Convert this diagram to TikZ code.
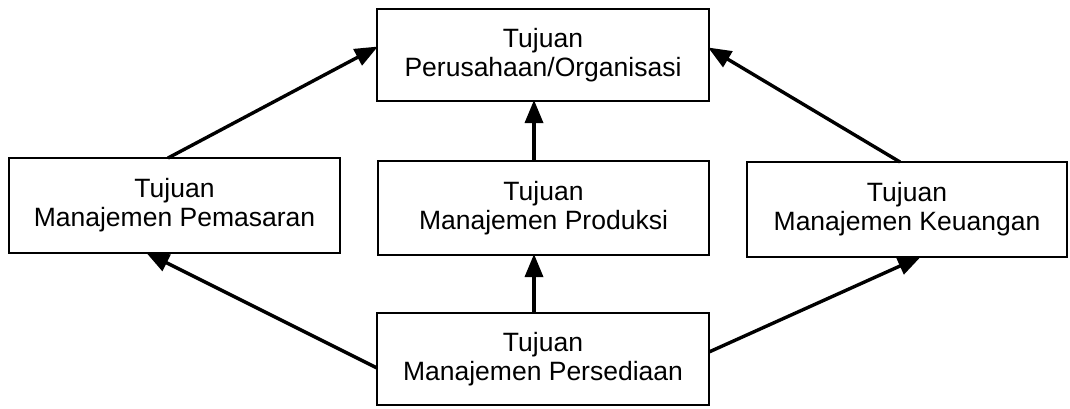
\documentclass[tikz,border=0pt]{standalone}
\usepackage{fontspec}
\setmainfont{Liberation Sans}
\usetikzlibrary{arrows.meta}
\tikzset{
  box/.style={draw=black, line width=2.8pt, inner sep=0pt, outer sep=0pt,
    align=center, font=\fontsize{26.5pt}{29pt}\selectfont, fill=white},
  arr/.style={draw=black, line width=3.4pt,
    -{Triangle[length=23pt,width=18pt]}, shorten >=-1pt}
}
\begin{document}
\begin{tikzpicture}[x=1pt,y=1pt]
\useasboundingbox[fill=white] (0,0) rectangle (1070,-408);
\node[box, minimum width=332pt, minimum height=92pt] (top) at (543,-55) {Tujuan\\Perusahaan/Organisasi};
\node[box, minimum width=331pt, minimum height=95pt] (left) at (174.5,-205.5) {Tujuan\\Manajemen Pemasaran};
\node[box, minimum width=331pt, minimum height=94pt] (mid) at (543.5,-208) {Tujuan\\Manajemen Produksi};
\node[box, minimum width=320pt, minimum height=95pt] (right) at (907,-209.5) {Tujuan\\Manajemen Keuangan};
\node[box, minimum width=332pt, minimum height=92pt] (bot) at (543,-359) {Tujuan\\Manajemen Persediaan};
\draw[arr] ([xshift=-6.5pt]left.north) -- ([yshift=8pt]top.west);
\draw[arr] ([xshift=-7pt]right.north) -- ([yshift=7pt]top.east);
\draw[arr] ([xshift=-9.5pt]mid.north) -- ([xshift=-9pt]top.south);
\draw[arr] ([xshift=-9pt]bot.north) -- ([xshift=-9.5pt]mid.south);
\draw[arr] ([yshift=-9pt]bot.west) -- ([xshift=-27.5pt]left.south);
\draw[arr] ([yshift=7pt]bot.east) -- ([xshift=13pt]right.south);
\end{tikzpicture}
\end{document}
